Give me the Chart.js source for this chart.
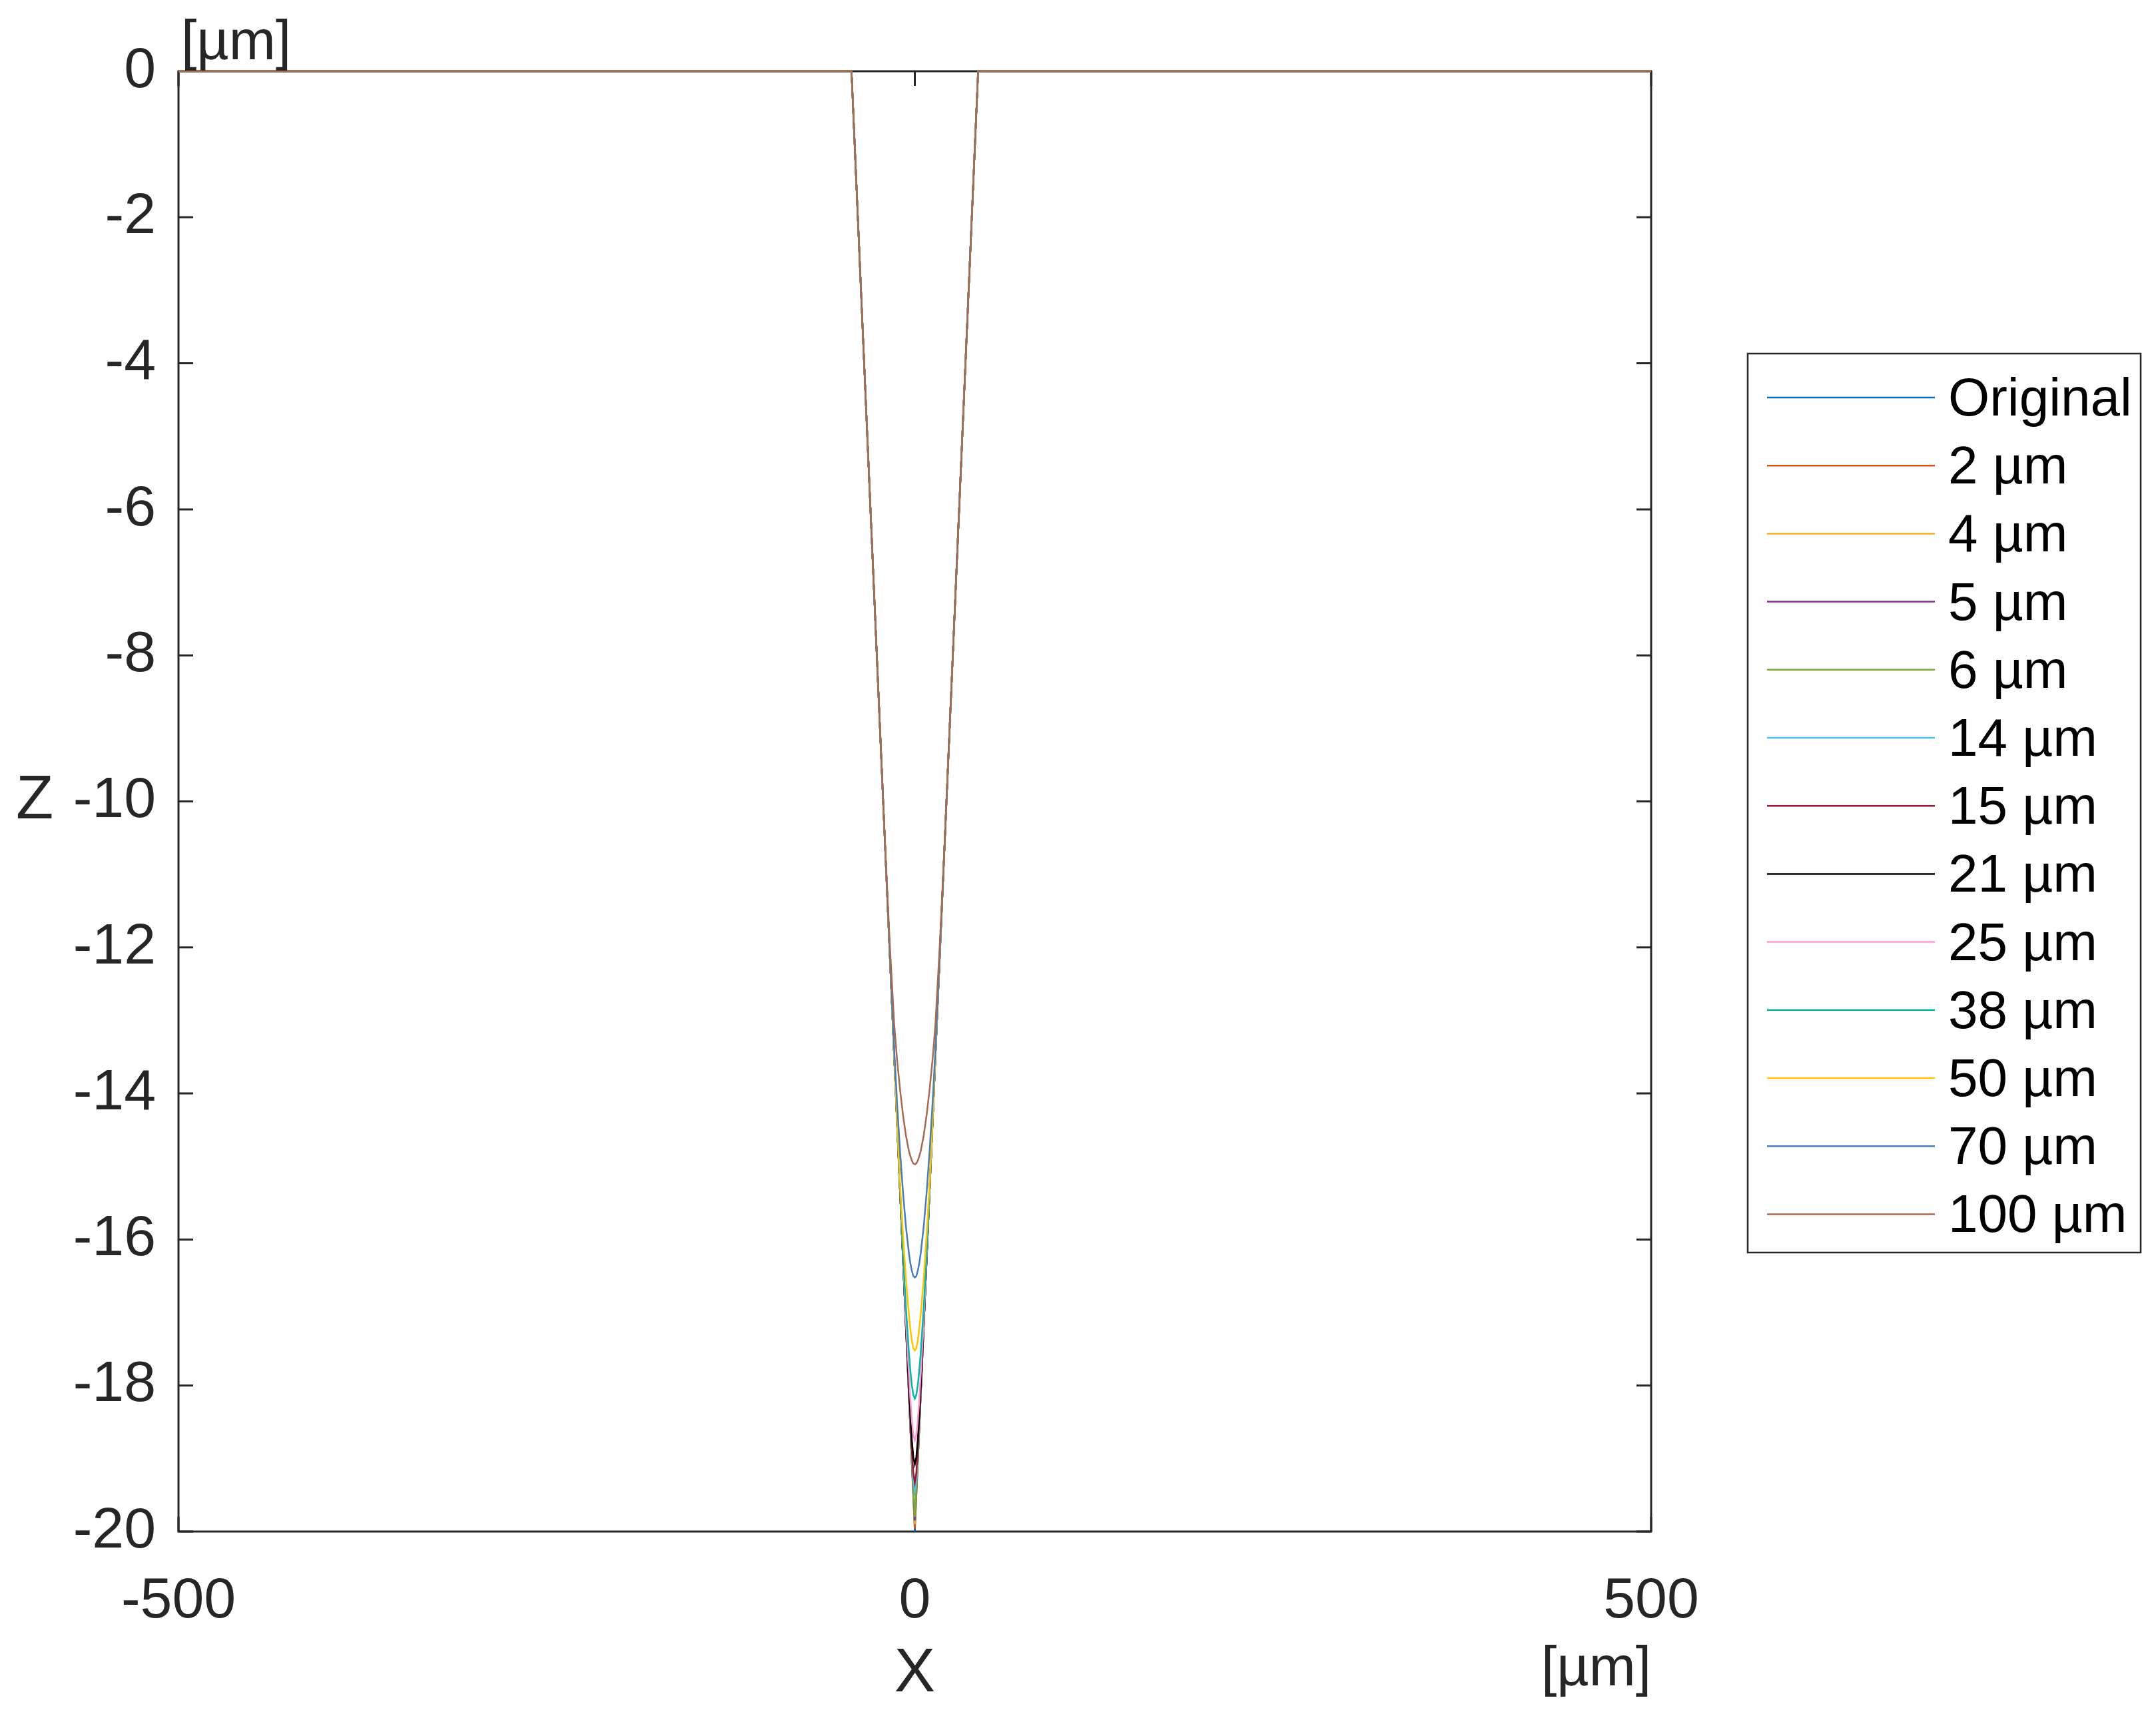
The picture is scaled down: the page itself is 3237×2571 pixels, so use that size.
<!DOCTYPE html>
<html>
<head>
<meta charset="utf-8">
<script src="https://cdn.jsdelivr.net/npm/chart.js@4.4.1/dist/chart.umd.min.js"></script>
<style>
  html, body { margin: 0; padding: 0; background: #fff; }
  #wrap { width: 3237px; height: 2571px; position: relative; }
</style>
</head>
<body>
<div id="wrap"><canvas id="profileChart"></canvas></div>
<script>
// half profile positions (|x| in µm), mirrored about x = 0
const halfX = [0, 1, 2, 3, 4, 6, 8, 10, 12, 14, 17, 20, 30, 43, 500];

// depth Z (µm) at each halfX
const zOriginal = [-20, -19.53, -19.07, -18.6, -18.14, -17.21, -16.28, -15.35, -14.42, -13.49, -12.09, -10.7, -6.05, 0, 0];
const z2 = [-19.96, -19.51, -19.07, -18.6, -18.14, -17.21, -16.28, -15.35, -14.42, -13.49, -12.09, -10.7, -6.05, 0, 0];
const z4 = [-19.9, -19.48, -19.06, -18.6, -18.14, -17.21, -16.28, -15.35, -14.42, -13.49, -12.09, -10.7, -6.05, 0, 0];
const z5 = [-19.85, -19.45, -19.05, -18.6, -18.14, -17.21, -16.28, -15.35, -14.42, -13.49, -12.09, -10.7, -6.05, 0, 0];
const z6 = [-19.8, -19.42, -19.03, -18.59, -18.14, -17.21, -16.28, -15.35, -14.42, -13.49, -12.09, -10.7, -6.05, 0, 0];
const z14 = [-19.45, -19.3, -18.95, -18.55, -18.12, -17.21, -16.28, -15.35, -14.42, -13.49, -12.09, -10.7, -6.05, 0, 0];
const z15 = [-19.33, -19.2, -18.9, -18.5, -18.1, -17.21, -16.28, -15.35, -14.42, -13.49, -12.09, -10.7, -6.05, 0, 0];
const z21 = [-19.08, -18.98, -18.75, -18.4, -18.0, -17.2, -16.28, -15.35, -14.42, -13.49, -12.09, -10.7, -6.05, 0, 0];
const z25 = [-18.75, -18.68, -18.48, -18.2, -17.85, -17.15, -16.27, -15.35, -14.42, -13.49, -12.09, -10.7, -6.05, 0, 0];
const z38 = [-18.18, -18.13, -18.0, -17.8, -17.55, -16.95, -16.2, -15.34, -14.42, -13.49, -12.09, -10.7, -6.05, 0, 0];
const z50 = [-17.52, -17.49, -17.39, -17.23, -17.03, -16.55, -15.95, -15.25, -14.4, -13.49, -12.09, -10.7, -6.05, 0, 0];
const z70 = [-16.52, -16.5, -16.43, -16.33, -16.19, -15.83, -15.36, -14.8, -14.15, -13.4, -12.08, -10.7, -6.05, 0, 0];
const z100 = [-14.97, -14.96, -14.92, -14.86, -14.79, -14.58, -14.3, -13.95, -13.55, -13.05, -11.95, -10.68, -6.05, 0, 0];

const seriesLabels = ['Original', '2 µm', '4 µm', '5 µm', '6 µm', '14 µm', '15 µm', '21 µm', '25 µm', '38 µm', '50 µm', '70 µm', '100 µm'];
const seriesValues = [zOriginal, z2, z4, z5, z6, z14, z15, z21, z25, z38, z50, z70, z100];
const seriesColors = ['#0072BD', '#D95319', '#EDB120', '#7E2F8E', '#77AC30', '#4DBEEE', '#A2142F',
  '#000000', '#FF99D6', '#00B8A8', '#FFC400', '#4A7EBB', '#A86A50'];

const xTicks = [-500, 0, 500];
const yTicks = [0, -2, -4, -6, -8, -10, -12, -14, -16, -18, -20];

const TEXT = '#262626';
const FONT = '"Liberation Sans", Arial, sans-serif';

function toPoints(vals) {
  const pts = [];
  for (let i = halfX.length - 1; i > 0; i--) pts.push({ x: -halfX[i], y: vals[i] });
  for (let i = 0; i < halfX.length; i++) pts.push({ x: halfX[i], y: vals[i] });
  return pts;
}

// later series are drawn over earlier ones, like the original plot
const datasets = seriesValues.map((vals, i) => ({
  label: seriesLabels[i],
  data: toPoints(vals),
  borderColor: seriesColors[i],
  backgroundColor: seriesColors[i],
  borderWidth: 2.5,
  pointRadius: 0,
  tension: 0,
  fill: false,
  clip: false,
  order: seriesValues.length - i
}));

// box, inward ticks on all sides, units and axis letters
const frame = {
  id: 'frame',
  beforeDatasetsDraw(chart) {
    const ctx = chart.ctx;
    const a = chart.chartArea;
    const sx = chart.scales.x, sy = chart.scales.y;
    const tl = 22;
    ctx.save();
    ctx.strokeStyle = TEXT;
    ctx.lineWidth = 3;
    ctx.strokeRect(a.left, a.top, a.right - a.left, a.bottom - a.top);
    ctx.beginPath();
    xTicks.forEach(v => {
      const px = sx.getPixelForValue(v);
      ctx.moveTo(px, a.bottom); ctx.lineTo(px, a.bottom - tl);
      ctx.moveTo(px, a.top); ctx.lineTo(px, a.top + tl);
    });
    yTicks.forEach(v => {
      const py = sy.getPixelForValue(v);
      ctx.moveTo(a.left, py); ctx.lineTo(a.left + tl, py);
      ctx.moveTo(a.right, py); ctx.lineTo(a.right - tl, py);
    });
    ctx.stroke();
    ctx.restore();
  },
  afterDraw(chart) {
    const ctx = chart.ctx;
    const a = chart.chartArea;
    ctx.save();
    ctx.fillStyle = TEXT;
    ctx.textBaseline = 'middle';
    ctx.font = '84px ' + FONT;
    ctx.textAlign = 'left';
    ctx.fillText('[µm]', a.left + 4, 66);
    ctx.textAlign = 'right';
    ctx.fillText('[µm]', a.right, 2508);
    ctx.font = '92px ' + FONT;
    ctx.textAlign = 'center';
    ctx.fillText('X', (a.left + a.right) / 2, 2515);
    ctx.fillText('Z', 52, (a.top + a.bottom) / 2);

    // legend
    const bx = 2624, by = 531, bw = 590, bh = 1350;
    ctx.fillStyle = '#fff';
    ctx.fillRect(bx, by, bw, bh);
    ctx.strokeStyle = TEXT;
    ctx.lineWidth = 2.5;
    ctx.strokeRect(bx, by, bw, bh);
    ctx.font = '80px ' + FONT;
    ctx.textAlign = 'left';
    chart.data.datasets.forEach((ds, i) => {
      const y = 597 + i * 102.2;
      ctx.strokeStyle = ds.borderColor;
      ctx.lineWidth = 2.5;
      ctx.beginPath();
      ctx.moveTo(2653, y);
      ctx.lineTo(2905, y);
      ctx.stroke();
      ctx.fillStyle = '#000';
      ctx.fillText(ds.label, 2925, y + 5);
    });
    ctx.restore();
  }
};

new Chart(document.getElementById('profileChart').getContext('2d'), {
  type: 'line',
  data: { datasets: datasets },
  options: {
    responsive: true,
    maintainAspectRatio: false,
    animation: false,
    devicePixelRatio: 1,
    layout: { padding: { left: 0, top: 107, right: 758, bottom: 0 } },
    plugins: {
      legend: { display: false },
      tooltip: { enabled: false }
    },
    scales: {
      x: {
        type: 'linear',
        min: -500,
        max: 500,
        border: { display: false },
        grid: { display: false },
        afterFit(scale) { scale.height = 271; },
        afterBuildTicks(scale) { scale.ticks = xTicks.map(v => ({ value: v })); },
        ticks: {
          color: TEXT,
          font: { family: FONT, size: 86 },
          padding: 46,
          maxRotation: 0,
          autoSkip: false
        }
      },
      y: {
        type: 'linear',
        min: -20,
        max: 0,
        border: { display: false },
        grid: { display: false },
        afterFit(scale) { scale.width = 268; },
        afterBuildTicks(scale) { scale.ticks = yTicks.map(v => ({ value: v })); },
        ticks: {
          color: TEXT,
          font: { family: FONT, size: 86 },
          padding: 26,
          autoSkip: false
        }
      }
    }
  },
  plugins: [frame]
});
</script>
</body>
</html>
